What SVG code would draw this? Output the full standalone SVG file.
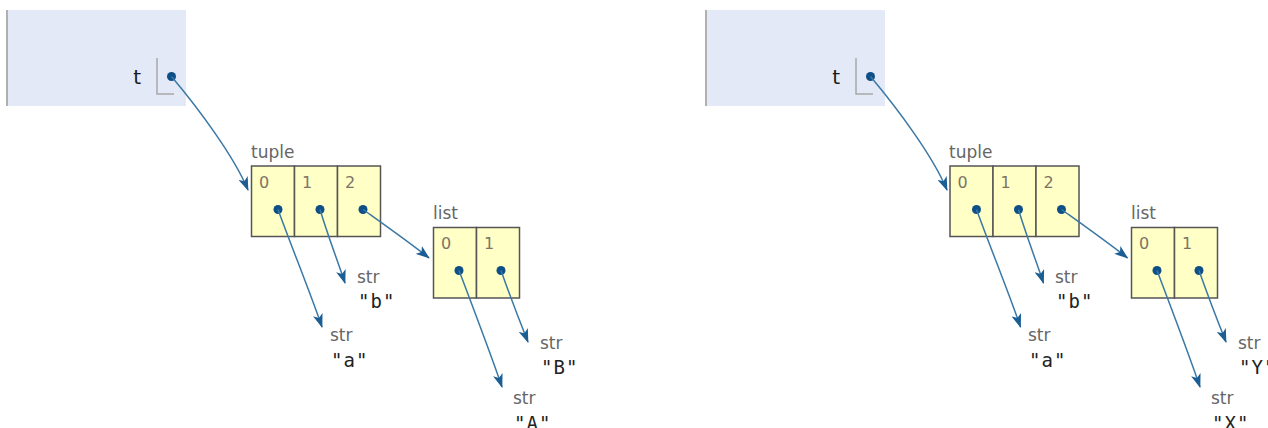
<svg xmlns="http://www.w3.org/2000/svg" width="1268" height="428" viewBox="0 0 1268 428">
  <style>
    .frame { fill: #e3e9f7; }
    .frame-edge { stroke: #b0b0b0; stroke-width: 2; }
    .slot { fill: none; stroke: #a8a8a8; stroke-width: 1.5; }
    .var { font-family: "DejaVu Sans", Verdana, sans-serif; font-size: 20px; fill: #1a1a1a; }
    .type { font-family: "DejaVu Sans", Verdana, sans-serif; font-size: 17px; fill: #666; }
    .idx { font-family: "DejaVu Sans", Verdana, sans-serif; font-size: 16px; fill: #7d7466; }
    .val { font-family: "DejaVu Sans Mono", "Liberation Mono", monospace; font-size: 19px; fill: #222; letter-spacing: 1px; }
    .cell { fill: #ffffc6; stroke: #555; stroke-width: 1.5; }
    .dot { fill: #0d4f86; }
    .link { fill: none; stroke: #3a78a6; stroke-width: 1.5; marker-end: url(#head); }
  </style>
  <defs>
    <marker id="head" viewBox="0 0 14 10" refX="13" refY="5" markerWidth="14" markerHeight="10" markerUnits="userSpaceOnUse" orient="auto">
      <path d="M0,0 L14,5 L0,10 L3.5,5 Z" fill="#1b5e94"/>
    </marker>
  </defs>

  <!-- ===== left state ===== -->
  <g id="frame-left">
    <rect class="frame" x="7" y="10" width="179" height="96"/>
    <line class="frame-edge" x1="7" y1="10" x2="7" y2="106"/>
    <text class="var" x="141" y="84" text-anchor="end">t</text>
    <polyline class="slot" points="157,58 157,94 174,94"/>
    <circle class="dot" cx="171.5" cy="76.5" r="4.5"/>
  </g>

  <g id="tuple-left">
    <text class="type" x="251" y="158">tuple</text>
    <rect class="cell" x="251.5" y="166" width="43" height="70.5"/>
    <rect class="cell" x="294.5" y="166" width="43" height="70.5"/>
    <rect class="cell" x="337.5" y="166" width="43" height="70.5"/>
    <text class="idx" x="259" y="188">0</text>
    <text class="idx" x="302" y="188">1</text>
    <text class="idx" x="345" y="188">2</text>
    <circle class="dot" cx="278" cy="209.5" r="4.5"/>
    <circle class="dot" cx="320" cy="209.5" r="4.5"/>
    <circle class="dot" cx="363" cy="209.5" r="4.5"/>
  </g>

  <g id="list-left">
    <text class="type" x="433" y="219">list</text>
    <rect class="cell" x="433.5" y="227.5" width="43" height="70.5"/>
    <rect class="cell" x="476.5" y="227.5" width="43" height="70.5"/>
    <text class="idx" x="441" y="249">0</text>
    <text class="idx" x="484" y="249">1</text>
    <circle class="dot" cx="459" cy="270.5" r="4.5"/>
    <circle class="dot" cx="501" cy="270.5" r="4.5"/>
  </g>

  <g id="str-a-left">
    <text class="type" x="330" y="341">str</text>
    <text class="val" x="331" y="367">"a"</text>
  </g>
  <g id="str-b-left">
    <text class="type" x="357" y="283">str</text>
    <text class="val" x="358" y="308">"b"</text>
  </g>
  <g id="str-A-left">
    <text class="type" x="513" y="404">str</text>
    <text class="val" x="514" y="430">"A"</text>
  </g>
  <g id="str-B-left">
    <text class="type" x="540" y="349">str</text>
    <text class="val" x="541" y="374">"B"</text>
  </g>

  <!-- ===== right state ===== -->
  <g id="frame-right">
    <rect class="frame" x="706" y="10" width="179" height="96"/>
    <line class="frame-edge" x1="706" y1="10" x2="706" y2="106"/>
    <text class="var" x="840" y="84" text-anchor="end">t</text>
    <polyline class="slot" points="856,58 856,94 873,94"/>
    <circle class="dot" cx="870.5" cy="76.5" r="4.5"/>
  </g>

  <g id="tuple-right">
    <text class="type" x="949" y="158">tuple</text>
    <rect class="cell" x="950" y="166" width="43" height="70.5"/>
    <rect class="cell" x="993" y="166" width="43" height="70.5"/>
    <rect class="cell" x="1036" y="166" width="43" height="70.5"/>
    <text class="idx" x="957.5" y="188">0</text>
    <text class="idx" x="1000.5" y="188">1</text>
    <text class="idx" x="1043.5" y="188">2</text>
    <circle class="dot" cx="976.5" cy="209.5" r="4.5"/>
    <circle class="dot" cx="1018.5" cy="209.5" r="4.5"/>
    <circle class="dot" cx="1061.5" cy="209.5" r="4.5"/>
  </g>

  <g id="list-right">
    <text class="type" x="1131" y="219">list</text>
    <rect class="cell" x="1131.5" y="227.5" width="43" height="70.5"/>
    <rect class="cell" x="1174.5" y="227.5" width="43" height="70.5"/>
    <text class="idx" x="1139" y="249">0</text>
    <text class="idx" x="1182" y="249">1</text>
    <circle class="dot" cx="1157" cy="270.5" r="4.5"/>
    <circle class="dot" cx="1199" cy="270.5" r="4.5"/>
  </g>

  <g id="str-a-right">
    <text class="type" x="1028" y="341">str</text>
    <text class="val" x="1029" y="367">"a"</text>
  </g>
  <g id="str-b-right">
    <text class="type" x="1055" y="283">str</text>
    <text class="val" x="1056" y="308">"b"</text>
  </g>
  <g id="str-X-right">
    <text class="type" x="1211" y="404">str</text>
    <text class="val" x="1212" y="430">"X"</text>
  </g>
  <g id="str-Y-right">
    <text class="type" x="1238" y="349">str</text>
    <text class="val" x="1239" y="374">"Y"</text>
  </g>

  <!-- references -->
  <g id="connectors">
    <path class="link" d="M171.5,76.5 C198,108 234,156 248,190"/>
    <path class="link" d="M278,209.5 C292,248 310,292 322,327"/>
    <path class="link" d="M320,209.5 C328,236 338,262 345,283"/>
    <path class="link" d="M363,209.5 C386,226 410,243 429,258"/>
    <path class="link" d="M459,270.5 C474,310 490,352 502,387"/>
    <path class="link" d="M501,270.5 C510,296 520,322 528,342"/>

    <path class="link" d="M870.5,76.5 C897,108 933,156 947,190"/>
    <path class="link" d="M976.5,209.5 C990.5,248 1008.5,292 1020.5,327"/>
    <path class="link" d="M1018.5,209.5 C1026.5,236 1036.5,262 1043.5,283"/>
    <path class="link" d="M1061.5,209.5 C1084.5,226 1108.5,243 1127.5,258"/>
    <path class="link" d="M1157,270.5 C1172,310 1188,352 1200,387"/>
    <path class="link" d="M1199,270.5 C1208,296 1218,322 1226,342"/>
  </g>
</svg>
